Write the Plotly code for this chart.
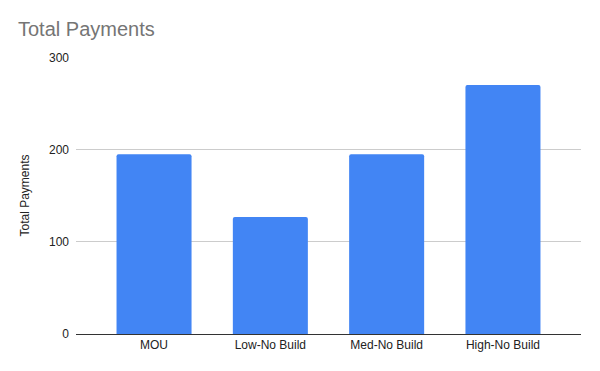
import plotly.graph_objects as go

categories = ["MOU", "Low-No Build", "Med-No Build", "High-No Build"]
values = [195, 127, 195, 270]
y_ticks = [0, 100, 200, 300]

FONT = "Arial, Liberation Sans, sans-serif"

fig = go.Figure(go.Bar(
    x=categories, y=values,
    marker=dict(color="#4285f4", cornerradius=2, line=dict(width=0)),
))

pad = 0.171
fig.update_layout(
    width=600, height=371,
    margin=dict(l=76, r=19, t=57, b=37),
    paper_bgcolor="white", plot_bgcolor="white",
    font=dict(family=FONT, color="#222222", size=12),
    title=dict(text="Total Payments", x=0.03, xanchor="left", y=0.923, yanchor="middle",
               font=dict(size=20, color="#757575", family=FONT)),
    bargap=0.355,
    showlegend=False,
    xaxis=dict(showgrid=False, showline=True, linecolor="#333333", linewidth=1,
               range=[-0.5 - pad, len(categories) - 0.5 + pad],
               ticks="", tickfont=dict(size=12, color="#222222")),
    yaxis=dict(range=[0, 300.4], tickvals=y_ticks, showgrid=True, gridcolor="#cccccc",
               zeroline=False, ticks="", tickfont=dict(size=12, color="#222222"),
               ticklabelstandoff=6,
               title=dict(text="Total Payments", font=dict(size=12, color="#222222"), standoff=16)),
)

fig.write_html("out.html", config={"displayModeBar": False},
               post_script="document.body.style.margin='0';")
